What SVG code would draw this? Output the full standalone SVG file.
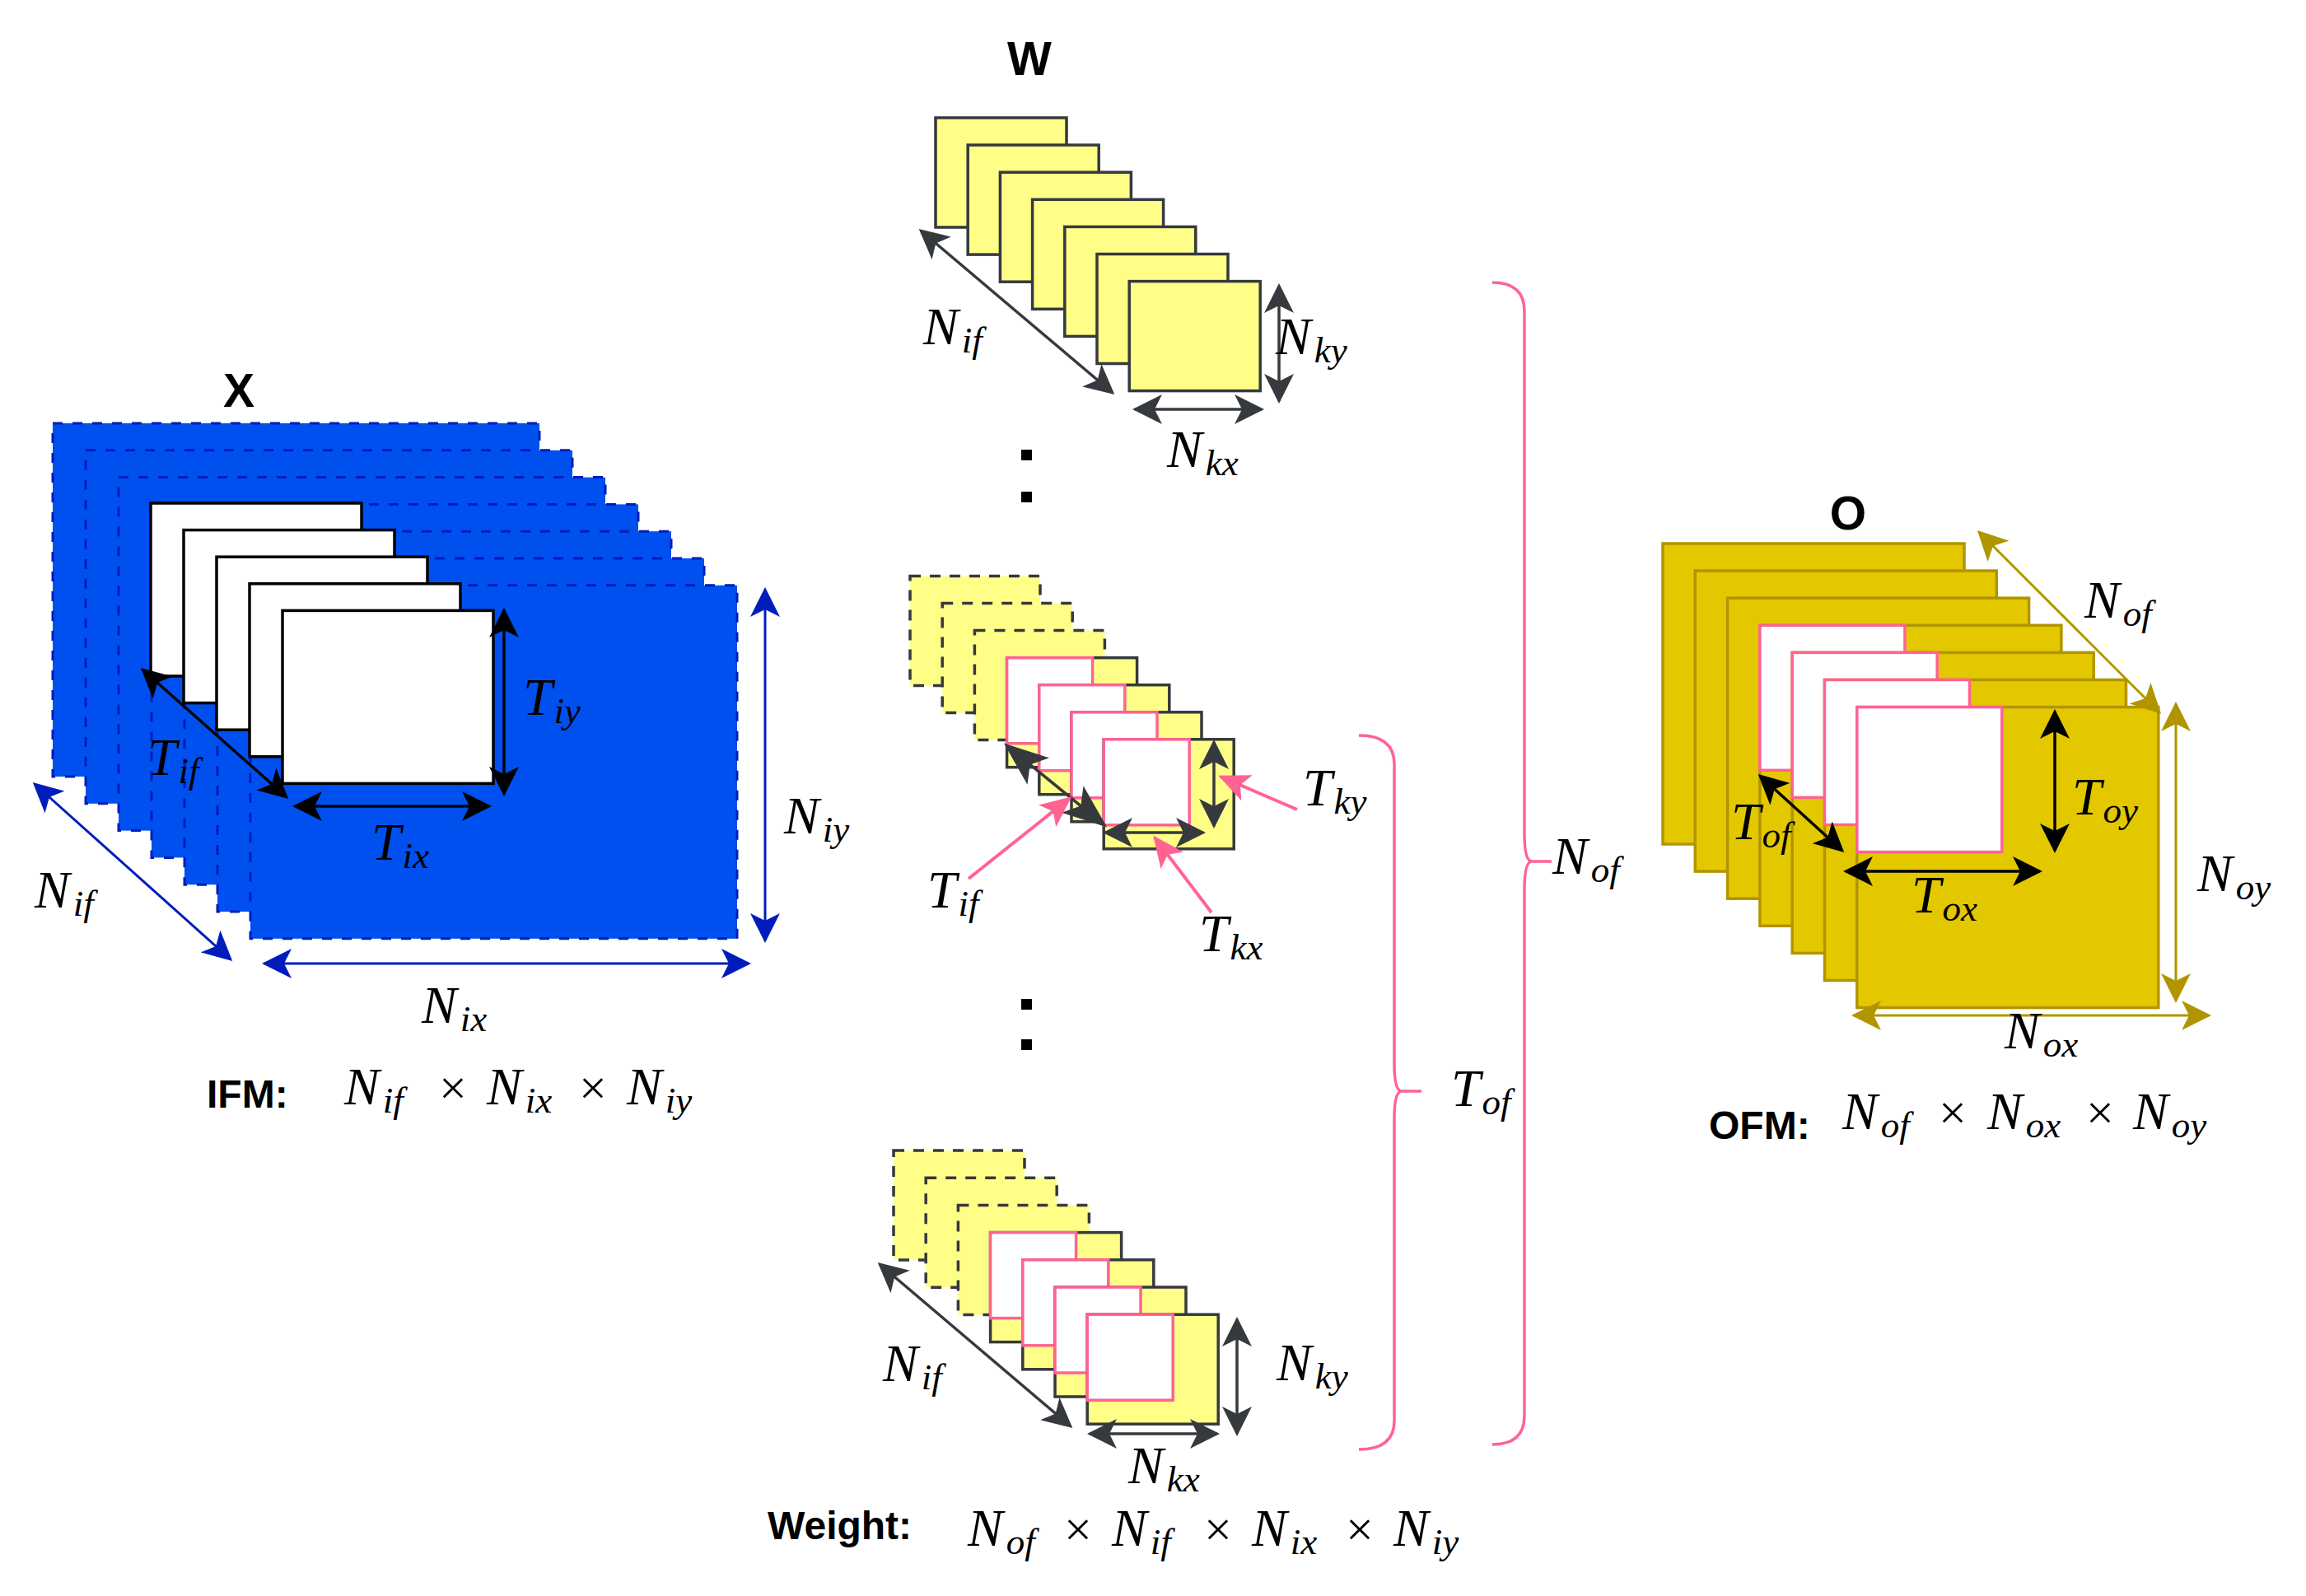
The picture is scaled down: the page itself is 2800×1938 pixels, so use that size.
<svg xmlns="http://www.w3.org/2000/svg" width="2800" height="1938" viewBox="0 0 2800 1938">
<style>
.bl{fill:#0050EF;stroke:#001DBC;stroke-width:3;stroke-dasharray:12 12}
.wh{fill:#FFFFFF;stroke:#000;stroke-width:3.5}
.ye{fill:#FFFF88;stroke:#36393D;stroke-width:3.5}
.yd{fill:#FFFF88;stroke:#36393D;stroke-width:3.5;stroke-dasharray:13 11}
.pk{fill:#FFFFFF;stroke:#FF6392;stroke-width:3.5}
.go{fill:#E3C800;stroke:#B09500;stroke-width:3.5}
.c{fill:none;stroke-width:3.5}
.ck{stroke:#000;marker-start:url(#ak);marker-end:url(#ak)}
.cb{stroke:#001DBC;stroke-width:3;marker-start:url(#ab);marker-end:url(#ab)}
.cd{stroke:#36393D;marker-start:url(#ad);marker-end:url(#ad)}
.cg{stroke:#B09500;stroke-width:3;marker-start:url(#ag);marker-end:url(#ag)}
.cp{stroke:#FF6392;stroke-width:4;marker-end:url(#ap)}
.br{fill:none;stroke:#FF6392;stroke-width:3.5}
.m{font-family:"Liberation Serif","DejaVu Serif",serif;font-style:italic;font-size:64px;fill:#000}
.s{font-size:45px}
.x{font-family:"Liberation Serif","DejaVu Serif",serif;font-size:60px;fill:#000;text-anchor:middle}
.b{font-family:"Liberation Sans",Arial,sans-serif;font-weight:bold;fill:#000}
</style>
<defs>
<marker id="ak" viewBox="0 0 36 36" refX="33" refY="18" markerWidth="36" markerHeight="36" markerUnits="userSpaceOnUse" orient="auto-start-reverse"><path d="M0,0 L36,18 L0,36 L9,18 Z" fill="#000"/></marker>
<marker id="ab" viewBox="0 0 36 36" refX="33" refY="18" markerWidth="36" markerHeight="36" markerUnits="userSpaceOnUse" orient="auto-start-reverse"><path d="M0,0 L36,18 L0,36 L9,18 Z" fill="#001DBC"/></marker>
<marker id="ad" viewBox="0 0 36 36" refX="33" refY="18" markerWidth="36" markerHeight="36" markerUnits="userSpaceOnUse" orient="auto-start-reverse"><path d="M0,0 L36,18 L0,36 L9,18 Z" fill="#36393D"/></marker>
<marker id="adb" viewBox="0 0 54 42" refX="50" refY="21" markerWidth="54" markerHeight="42" markerUnits="userSpaceOnUse" orient="auto-start-reverse"><path d="M0,0 L54,21 L0,42 L13,21 Z" fill="#36393D"/></marker>
<marker id="ag" viewBox="0 0 36 36" refX="33" refY="18" markerWidth="36" markerHeight="36" markerUnits="userSpaceOnUse" orient="auto-start-reverse"><path d="M0,0 L36,18 L0,36 L9,18 Z" fill="#B09500"/></marker>
<marker id="ap" viewBox="0 0 38 34" refX="35" refY="17" markerWidth="38" markerHeight="34" markerUnits="userSpaceOnUse" orient="auto"><path d="M0,0 L38,17 L0,34 L9,17 Z" fill="#FF6392"/></marker>
</defs>
<rect width="2800" height="1938" fill="#FFFFFF"/>

<g id="ifm-stack">
<rect class="bl" x="64" y="514" width="591" height="429"/>
<rect class="bl" x="104" y="546.8" width="591" height="429"/>
<rect class="bl" x="144" y="579.6" width="591" height="429"/>
<rect class="bl" x="184" y="612.4" width="591" height="429"/>
<rect class="bl" x="224" y="645.2" width="591" height="429"/>
<rect class="bl" x="264" y="678" width="591" height="429"/>
<rect class="bl" x="304" y="710.8" width="591" height="429"/>
<rect class="wh" x="183" y="611" width="256" height="210"/>
<rect class="wh" x="223" y="643.6" width="256" height="210"/>
<rect class="wh" x="263" y="676.2" width="256" height="210"/>
<rect class="wh" x="303" y="708.8" width="256" height="210"/>
<rect class="wh" x="343" y="741.4" width="256" height="210"/>
</g>

<g id="w-top-stack">
<rect class="ye" x="1136" y="143" width="159" height="133"/>
<rect class="ye" x="1175.2" y="176.1" width="159" height="133"/>
<rect class="ye" x="1214.4" y="209.2" width="159" height="133"/>
<rect class="ye" x="1253.6" y="242.3" width="159" height="133"/>
<rect class="ye" x="1292.8" y="275.4" width="159" height="133"/>
<rect class="ye" x="1332" y="308.5" width="159" height="133"/>
<rect class="ye" x="1371.2" y="341.6" width="159" height="133"/>
</g>

<g id="w-mid-stack">
<rect class="yd" x="1105" y="699.5" width="158" height="133"/>
<rect class="yd" x="1144.2" y="732.6" width="158" height="133"/>
<rect class="yd" x="1183.4" y="765.6" width="158" height="133"/>
<rect class="ye" x="1222.6" y="798.7" width="158" height="133"/>
<rect class="pk" x="1222.6" y="798.7" width="104" height="104"/>
<rect class="ye" x="1261.8" y="831.7" width="158" height="133"/>
<rect class="pk" x="1261.8" y="831.7" width="104" height="104"/>
<rect class="ye" x="1301" y="864.8" width="158" height="133"/>
<rect class="pk" x="1301" y="864.8" width="104" height="104"/>
<rect class="ye" x="1340.2" y="897.8" width="158" height="133"/>
<rect class="pk" x="1340.2" y="897.8" width="104" height="104"/>
</g>

<g id="w-bottom-stack">
<rect class="yd" x="1085" y="1397" width="159" height="133"/>
<rect class="yd" x="1124.2" y="1430.2" width="159" height="133"/>
<rect class="yd" x="1163.4" y="1463.4" width="159" height="133"/>
<rect class="ye" x="1202.6" y="1496.6" width="159" height="133"/>
<rect class="pk" x="1202.6" y="1496.6" width="104" height="104"/>
<rect class="ye" x="1241.8" y="1529.8" width="159" height="133"/>
<rect class="pk" x="1241.8" y="1529.8" width="104" height="104"/>
<rect class="ye" x="1281" y="1563" width="159" height="133"/>
<rect class="pk" x="1281" y="1563" width="104" height="104"/>
<rect class="ye" x="1320.2" y="1596.2" width="159" height="133"/>
<rect class="pk" x="1320.2" y="1596.2" width="104" height="104"/>
</g>

<g id="ofm-stack">
<rect class="go" x="2019" y="660" width="366" height="365"/>
<rect class="go" x="2058.3" y="693.1" width="366" height="365"/>
<rect class="go" x="2097.6" y="726.2" width="366" height="365"/>
<rect class="go" x="2136.9" y="759.3" width="366" height="365"/>
<rect class="pk" x="2136.9" y="759.3" width="176" height="176"/>
<rect class="go" x="2176.2" y="792.4" width="366" height="365"/>
<rect class="pk" x="2176.2" y="792.4" width="176" height="176"/>
<rect class="go" x="2215.5" y="825.5" width="366" height="365"/>
<rect class="pk" x="2215.5" y="825.5" width="176" height="176"/>
<rect class="go" x="2254.8" y="858.6" width="366" height="365"/>
<rect class="pk" x="2254.8" y="858.6" width="176" height="176"/>
</g>

<g id="ellipsis-dots" fill="#000">
<rect x="1240" y="546" width="13" height="13"/>
<rect x="1240" y="597" width="13" height="13"/>
<rect x="1240" y="1213" width="13" height="13"/>
<rect x="1240" y="1262" width="13" height="13"/>
</g>

<g id="braces">
<path class="br" d="M1650,893 Q1693,893 1693,928 L1693,1292 Q1693,1325 1702,1325 L1726,1325 M1702,1325 Q1693,1325 1693,1358 L1693,1725 Q1693,1760 1650,1760"/>
<path class="br" d="M1812,343 Q1851,343 1851,378 L1851,1012 Q1851,1046 1860,1046 L1884,1046 M1860,1046 Q1851,1046 1851,1080 L1851,1719 Q1851,1754 1812,1754"/>
</g>

<g id="connectors">
<line class="c ck" x1="173" y1="813" x2="348" y2="968"/>
<line class="c ck" x1="358" y1="979" x2="594" y2="979"/>
<line class="c ck" x1="612" y1="741" x2="612" y2="964"/>
<line class="c cb" x1="42" y1="952" x2="280" y2="1165"/>
<line class="c cb" x1="321" y1="1170" x2="909" y2="1170"/>
<line class="c cb" x1="929" y1="716" x2="929" y2="1142"/>

<line class="c cd" x1="1118" y1="280" x2="1351" y2="477"/>
<line class="c cd" x1="1553" y1="347" x2="1553" y2="487"/>
<line class="c cd" x1="1378" y1="497" x2="1532" y2="497"/>

<line class="c" stroke="#36393D" stroke-width="6" marker-start="url(#adb)" marker-end="url(#adb)" x1="1222" y1="905" x2="1341" y2="1002"/>
<line class="c cd" x1="1342" y1="1011" x2="1461" y2="1011"/>
<line class="c cd" x1="1474" y1="901" x2="1474" y2="1003"/>
<line class="c cp" x1="1176" y1="1067" x2="1299" y2="969"/>
<line class="c cp" x1="1471" y1="1108" x2="1402" y2="1017"/>
<line class="c cp" x1="1575" y1="983" x2="1482" y2="943"/>

<line class="c cd" x1="1068" y1="1535" x2="1300" y2="1732"/>
<line class="c cd" x1="1502" y1="1602" x2="1502" y2="1741"/>
<line class="c cd" x1="1323" y1="1741" x2="1478" y2="1741"/>

<line class="c ck" x1="2137" y1="942" x2="2237" y2="1033"/>
<line class="c ck" x1="2241" y1="1058" x2="2477" y2="1058"/>
<line class="c ck" x1="2495" y1="864" x2="2495" y2="1033"/>
<line class="c cg" x1="2403" y1="646" x2="2622" y2="865"/>
<line class="c cg" x1="2642" y1="855" x2="2642" y2="1215"/>
<line class="c cg" x1="2251" y1="1233" x2="2682" y2="1233"/>
</g>

<g id="titles">
<text class="b" x="290" y="494" font-size="57" text-anchor="middle">X</text>
<text class="b" x="1250" y="91" font-size="57" text-anchor="middle">W</text>
<text class="b" x="2244" y="643" font-size="57" text-anchor="middle">O</text>
</g>

<g id="labels">
<text class="m" x="179" y="941">T<tspan class="s" dx="2" dy="10">if</tspan></text>
<text class="m" x="451" y="1044">T<tspan class="s" dx="2" dy="10">ix</tspan></text>
<text class="m" x="635" y="868">T<tspan class="s" dx="2" dy="10">iy</tspan></text>
<text class="m" x="42" y="1102">N<tspan class="s" dx="4" dy="10">if</tspan></text>
<text class="m" x="512" y="1242">N<tspan class="s" dx="4" dy="10">ix</tspan></text>
<text class="m" x="952" y="1012">N<tspan class="s" dx="4" dy="10">iy</tspan></text>

<text class="m" x="1121" y="418">N<tspan class="s" dx="4" dy="10">if</tspan></text>
<text class="m" x="1549" y="430">N<tspan class="s" dx="4" dy="10">ky</tspan></text>
<text class="m" x="1417" y="567">N<tspan class="s" dx="4" dy="10">kx</tspan></text>

<text class="m" x="1126" y="1102">T<tspan class="s" dx="2" dy="10">if</tspan></text>
<text class="m" x="1456" y="1155">T<tspan class="s" dx="2" dy="10">kx</tspan></text>
<text class="m" x="1582" y="978">T<tspan class="s" dx="2" dy="10">ky</tspan></text>

<text class="m" x="1072" y="1677">N<tspan class="s" dx="4" dy="10">if</tspan></text>
<text class="m" x="1550" y="1676">N<tspan class="s" dx="4" dy="10">ky</tspan></text>
<text class="m" x="1370" y="1801">N<tspan class="s" dx="4" dy="10">kx</tspan></text>

<text class="m" x="2102" y="1019">T<tspan class="s" dx="2" dy="10">of</tspan></text>
<text class="m" x="2321" y="1108">T<tspan class="s" dx="2" dy="10">ox</tspan></text>
<text class="m" x="2516" y="989">T<tspan class="s" dx="2" dy="10">oy</tspan></text>
<text class="m" x="2531" y="750">N<tspan class="s" dx="4" dy="10">of</tspan></text>
<text class="m" x="2668" y="1082">N<tspan class="s" dx="4" dy="10">oy</tspan></text>
<text class="m" x="2434" y="1273">N<tspan class="s" dx="4" dy="10">ox</tspan></text>

<text class="m" x="1762" y="1343">T<tspan class="s" dx="2" dy="10">of</tspan></text>
<text class="m" x="1885" y="1061">N<tspan class="s" dx="4" dy="10">of</tspan></text>
</g>

<g id="ifm-formula">
<text class="b" x="251" y="1345" font-size="48">IFM:</text>
<text class="m" x="418" y="1341">N<tspan class="s" dx="4" dy="10">if</tspan></text>
<text class="x" x="550" y="1341">×</text>
<text class="m" x="591" y="1341">N<tspan class="s" dx="4" dy="10">ix</tspan></text>
<text class="x" x="720" y="1341">×</text>
<text class="m" x="761" y="1341">N<tspan class="s" dx="4" dy="10">iy</tspan></text>
</g>

<g id="weight-formula">
<text class="b" x="932" y="1869" font-size="48">Weight:</text>
<text class="m" x="1175" y="1877">N<tspan class="s" dx="4" dy="10">of</tspan></text>
<text class="x" x="1309" y="1877">×</text>
<text class="m" x="1350" y="1877">N<tspan class="s" dx="4" dy="10">if</tspan></text>
<text class="x" x="1479" y="1877">×</text>
<text class="m" x="1520" y="1877">N<tspan class="s" dx="4" dy="10">ix</tspan></text>
<text class="x" x="1651" y="1877">×</text>
<text class="m" x="1692" y="1877">N<tspan class="s" dx="4" dy="10">iy</tspan></text>
</g>

<g id="ofm-formula">
<text class="b" x="2075" y="1383" font-size="48">OFM:</text>
<text class="m" x="2237" y="1371">N<tspan class="s" dx="4" dy="10">of</tspan></text>
<text class="x" x="2371" y="1371">×</text>
<text class="m" x="2413" y="1371">N<tspan class="s" dx="4" dy="10">ox</tspan></text>
<text class="x" x="2550" y="1371">×</text>
<text class="m" x="2590" y="1371">N<tspan class="s" dx="4" dy="10">oy</tspan></text>
</g>
</svg>
